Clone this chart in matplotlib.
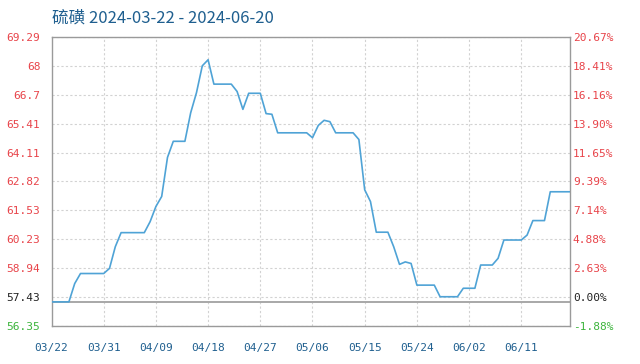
import matplotlib
matplotlib.use("Agg")
import matplotlib.pyplot as plt
import numpy as np
import datetime as dt

title = "硫磺 2024-03-22 - 2024-06-20"
start_date = dt.date(2024, 3, 22)
base_price = 57.43

# day offsets from 2024-03-22 and prices
days = [0, 3, 4, 5, 9, 10, 11, 12, 16, 17, 18, 19, 20, 21, 23, 24, 25, 26, 27,
        28, 31, 32, 33, 34, 36, 37, 38, 39, 44, 45, 46, 47, 48, 49, 52, 53, 54,
        55, 56, 58, 59, 60, 61, 62, 63, 66, 67, 70, 71, 73, 74, 76, 77, 78, 81,
        82, 83, 85, 86, 90]
prices = [57.43, 57.43, 58.25, 58.70, 58.70, 58.93, 59.90, 60.53, 60.53, 61.02,
          61.70, 62.15, 63.90, 64.62, 64.62, 65.90, 66.80, 68.00, 68.27,
          67.18, 67.18, 66.85, 66.05, 66.77, 66.77, 65.86, 65.83, 65.00, 65.00,
          64.78, 65.33, 65.56, 65.50, 65.00, 65.00, 64.70, 62.45,
          61.92, 60.55, 60.55, 59.90, 59.11, 59.22, 59.15, 58.18, 58.18, 57.66,
          57.66, 58.04, 58.04, 59.08, 59.08, 59.38, 60.20, 60.20,
          60.42, 61.07, 61.07, 62.36, 62.36]

y_min, y_max = 56.35, 69.29
grid_vals = list(np.linspace(y_min, y_max, 11))
left_labels = ["56.35", "57.43", "58.94", "60.23", "61.53", "62.82", "64.11",
               "65.41", "66.7", "68", "69.29"]
right_labels = ["-1.88%", "0.00%", "2.63%", "4.88%", "7.14%", "9.39%", "11.65%",
                "13.90%", "16.16%", "18.41%", "20.67%"]
x_tick_days = [0, 9, 18, 27, 36, 45, 54, 63, 72, 81]
x_labels = [(start_date + dt.timedelta(days=d)).strftime("%m/%d") for d in x_tick_days]

RED = "#e8444a"
GREEN = "#3cb43c"
BLACK = "#222222"
BLUE_TXT = "#1f5f8f"
LINE = "#4fa3d6"

fig = plt.figure(figsize=(6.4, 3.64), dpi=100)
ax = fig.add_axes([51.5 / 640, 1 - 326 / 364, (570 - 51.5) / 640, (326 - 37) / 364])

ax.set_xlim(0, 89.4)
ax.set_ylim(y_min, y_max)

# grid
for gv in grid_vals:
    ax.axhline(gv, color="#d2d2d2", lw=0.8, ls=(0, (2, 2)), zorder=1)
for d in x_tick_days[1:]:
    ax.axvline(d, color="#d2d2d2", lw=0.8, ls=(0, (2, 2)), zorder=1)
ax.axhline(base_price, color="#a8a8a8", lw=1.4, zorder=2)

ax.plot(days, prices, color=LINE, lw=1.2, zorder=3)

for s in ax.spines.values():
    s.set_color("#9a9a9a")
    s.set_linewidth(1.0)

mono = "DejaVu Sans Mono"
ax.set_yticks(grid_vals)
ax.set_yticklabels(left_labels, fontsize=8, family=mono)
ax.tick_params(axis="y", length=0, pad=8)
left_colors = [GREEN, BLACK] + [RED] * 9
for lbl, c in zip(ax.get_yticklabels(), left_colors):
    lbl.set_color(c)

ax.set_xticks(x_tick_days)
ax.set_xticklabels(x_labels, fontsize=8, family=mono, color=BLUE_TXT)
ax.tick_params(axis="x", length=0, pad=12)

ax2 = ax.twinx()
ax2.set_ylim(y_min, y_max)
ax2.set_yticks(grid_vals)
ax2.set_yticklabels(right_labels, fontsize=8, family=mono)
ax2.tick_params(axis="y", length=0, pad=2)
for lbl, c in zip(ax2.get_yticklabels(), left_colors):
    lbl.set_color(c)
for s in ax2.spines.values():
    s.set_visible(False)

fig.text(51.5 / 640, 1 - 18 / 364, title, fontsize=12, color=BLUE_TXT,
         family=["Noto Sans CJK SC", "DejaVu Sans"], va="center", ha="left")

fig.savefig("out.png", dpi=100)
